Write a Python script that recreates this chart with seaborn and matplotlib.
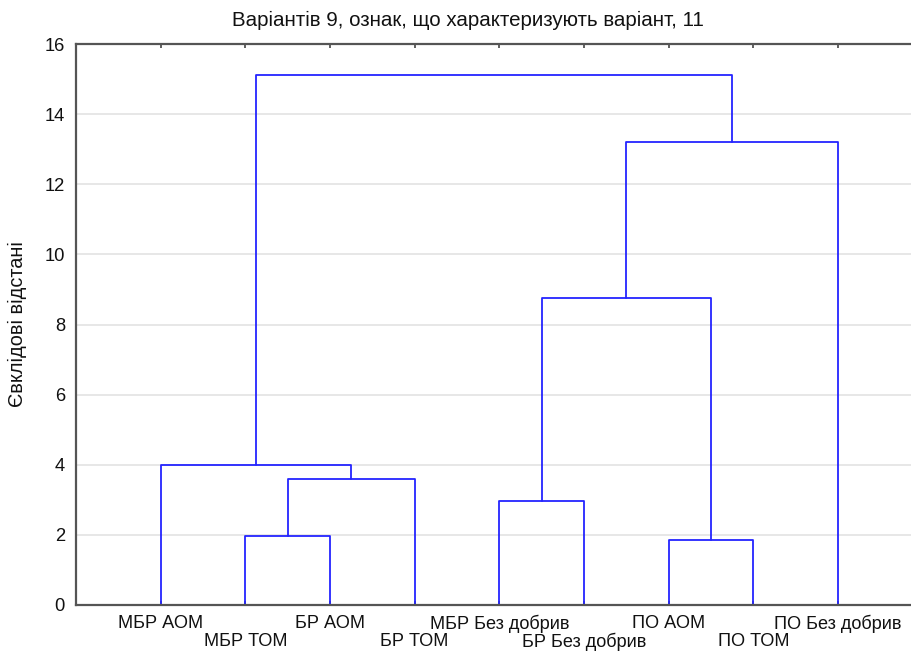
import matplotlib
matplotlib.use("Agg")
import matplotlib.pyplot as plt
import seaborn as sns
import pandas as pd

# Leaves in dendrogram order
leaves = ["МБР АОМ", "МБР ТОМ", "БР АОМ", "БР ТОМ", "МБР Без добрив",
          "БР Без добрив", "ПО АОМ", "ПО ТОМ", "ПО Без добрив"]

# Linkage: new cluster ids start at len(leaves)
merge_left = [6, 1, 4, 10, 0, 11, 14, 13]
merge_right = [7, 2, 5, 3, 12, 9, 8, 15]
merge_height = [1.86, 1.96, 2.96, 3.59, 4.00, 8.76, 13.21, 15.13]

yticks = [0, 2, 4, 6, 8, 10, 12, 14, 16]

title = "Варіантів 9, ознак, що характеризують варіант, 11"
ylabel = "Євклідові відстані"

sns.set_style("white")
plt.rcParams["font.family"] = ["Liberation Sans", "DejaVu Sans"]

# Build the U-shaped segments of the tree
pos = {i: float(i) for i in range(len(leaves))}
hgt = {i: 0.0 for i in range(len(leaves))}
rows = []
for k, (a, b, h) in enumerate(zip(merge_left, merge_right, merge_height)):
    node = len(leaves) + k
    xs = [pos[a], pos[a], pos[b], pos[b]]
    ys = [hgt[a], h, h, hgt[b]]
    for j, (x, y) in enumerate(zip(xs, ys)):
        rows.append({"seg": k, "order": j, "x": x, "y": y})
    pos[node] = (pos[a] + pos[b]) / 2
    hgt[node] = h
df = pd.DataFrame(rows)

fig = plt.figure(figsize=(9.12, 6.51), dpi=100)
ax = fig.add_axes([76 / 912, 46.3 / 651, 846.6 / 912, 560.4 / 651])

ax.yaxis.grid(True, color="#e3e3e3", linewidth=1.2, zorder=0)
ax.set_axisbelow(True)

sns.lineplot(data=df, x="x", y="y", units="seg", estimator=None, sort=False,
             color="#2424ff", linewidth=1.3, ax=ax, legend=False)

ax.set_xlim(-1, len(leaves))
ax.set_ylim(0, 16)
ax.set_yticks(yticks)
ax.set_yticks([1, 3, 5, 7, 9, 11, 13, 15], minor=True)
ax.set_yticklabels([str(t) for t in yticks], fontsize=13.2, color="#111111")

ax.set_xticks(range(len(leaves)))
ax.set_xticklabels(leaves, fontsize=13.1, color="#111111")
ax.set_xlabel("")
ax.set_ylabel("")

ax.tick_params(axis="y", which="major", direction="in", length=5, width=1,
               color="#444444", pad=8)
ax.tick_params(axis="y", which="minor", direction="in", length=3, width=1,
               color="#444444")
ax.tick_params(axis="x", which="major", direction="in", length=3, width=1.2,
               color="#444444", top=True, bottom=True)

# Alternate the leaf labels over two rows
for i, tick in enumerate(ax.xaxis.get_major_ticks()):
    tick.set_pad(7.5 if i % 2 == 0 else 20.5)

for side in ["left", "bottom", "top"]:
    ax.spines[side].set_visible(True)
    ax.spines[side].set_color("#555555")
    ax.spines[side].set_linewidth(1.6)
ax.spines["right"].set_visible(False)

fig.text(468 / 912, 1 - 26 / 651, title, ha="center", va="baseline",
         fontsize=14.8, color="#111111")
fig.text(17.5 / 912, 1 - 324 / 651, ylabel, rotation=90, ha="center",
         va="center", fontsize=14.3, color="#111111")

fig.savefig("out.png", dpi=100)
